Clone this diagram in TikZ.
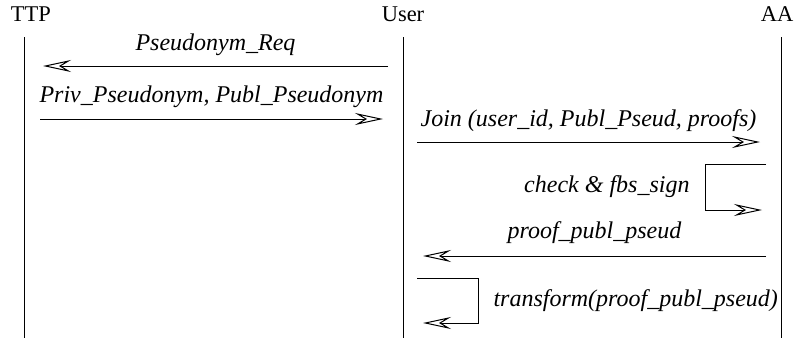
\documentclass[tikz,border=0pt]{standalone}
\usepackage{fontspec}
\setmainfont{Liberation Serif}
\usetikzlibrary{arrows.meta, positioning}

\begin{document}
\begin{tikzpicture}[x=1pt,y=-1pt,
    font=\fontsize{22.5}{27}\selectfont,
    party/.style={anchor=base,inner sep=0pt},
    life/.style={line width=1pt},
    msg/.style={-{Stealth[open,length=28pt,width=12pt,inset=10pt]},line width=1pt},
    lbl/.style={font=\fontsize{24}{28}\selectfont\itshape,inner sep=0pt}]
  \useasboundingbox (0,0) rectangle (801,340);
  % parties and lifelines
  \node[party] (ttp) at (31,21) {TTP};
  \node[party] (user) at (403,21) {User};
  \node[party] (aa) at (777,21) {AA};
  \coordinate (ttpTop) at (24,37);   \coordinate (ttpBot) at (24,338);
  \coordinate (userTop) at (403,37); \coordinate (userBot) at (403,338);
  \coordinate (aaTop) at (781,37);   \coordinate (aaBot) at (781,338);
  \draw[life] (ttpTop) -- (ttpBot);
  \draw[life] (userTop) -- (userBot);
  \draw[life] (aaTop) -- (aaBot);
  % messages
  \coordinate (req0) at (388,66);  \coordinate (req1) at (43,66);
  \coordinate (ps0) at (40,119);   \coordinate (ps1) at (383,119);
  \coordinate (join0) at (417,142); \coordinate (join1) at (760,142);
  \coordinate (chk0) at (766,164); \coordinate (chk1) at (705,164);
  \coordinate (chk2) at (705,210); \coordinate (chk3) at (762,210);
  \coordinate (prf0) at (766,256); \coordinate (prf1) at (423,256);
  \coordinate (tr0) at (417,278);  \coordinate (tr1) at (478,278);
  \coordinate (tr2) at (478,323);  \coordinate (tr3) at (423,323);
  \draw[msg] (req0) -- node[lbl,anchor=base,yshift=16pt] {Pseudonym\_Req} (req1);
  \draw[msg] (ps0) -- node[lbl,anchor=base,yshift=17pt] {Priv\_Pseudonym, Publ\_Pseudonym} (ps1);
  \draw[msg] (join0) -- node[lbl,anchor=base,yshift=16pt] {Join (user\_id, Publ\_Pseud, proofs)} (join1);
  \draw[msg] (chk0) -- (chk1) -- node[lbl,left=15pt] {check \& fbs\_sign} (chk2) -- (chk3);
  \draw[msg] (prf0) -- node[lbl,anchor=base,yshift=18pt] {proof\_publ\_pseud} (prf1);
  \draw[msg] (tr0) -- (tr1) -- node[lbl,right=15pt] {transform(proof\_publ\_pseud)} (tr2) -- (tr3);
\end{tikzpicture}
\end{document}
